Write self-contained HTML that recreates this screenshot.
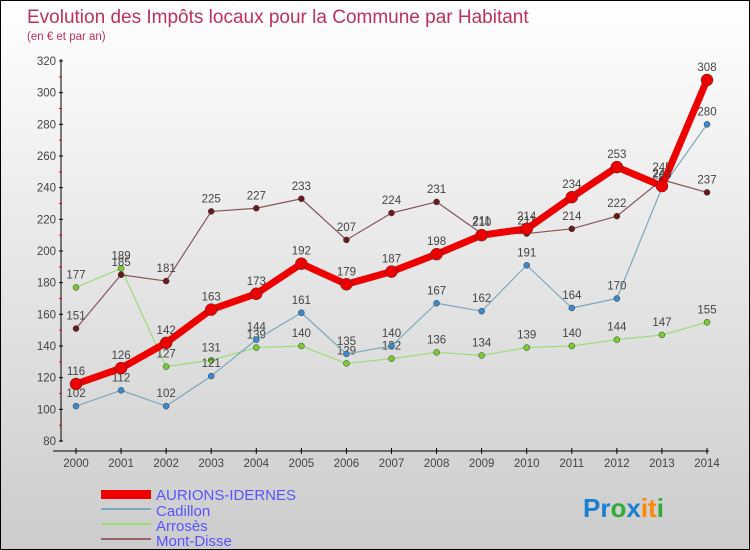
<!DOCTYPE html>
<html><head><meta charset="utf-8"><style>
body{margin:0}
#c{position:relative;width:750px;height:550px;box-sizing:border-box;border:1px solid #000;background:linear-gradient(#fff,#ccc);font-family:"Liberation Sans",sans-serif;overflow:hidden}
svg text{font-family:"Liberation Sans",sans-serif}
</style></head><body>
<div id="c">
<svg id="s" width="750" height="550">
<text x="26" y="22" font-size="19" fill="#c0305a">Evolution des Impôts locaux pour la Commune par Habitant</text>
<text x="26" y="39" font-size="11.5" fill="#c0305a">(en € et par an)</text>
<g id="axes"></g><g id="series"></g>
<g>
<rect x="100" y="489" width="50" height="9" fill="#e00"/>
<text x="155" y="499" font-size="15" fill="#55f">AURIONS-IDERNES</text>
<rect x="100" y="507" width="50" height="2" fill="#7ab"/>
<text x="155" y="515" font-size="15" fill="#55f">Cadillon</text>
<rect x="100" y="522" width="50" height="2" fill="#9d7"/>
<text x="155" y="530" font-size="15" fill="#55f">Arrosès</text>
<rect x="100" y="537" width="50" height="2" fill="#966"/>
<text x="155" y="545" font-size="15" fill="#55f">Mont-Disse</text>
</g>
<text x="582" y="516" font-size="26" font-weight="bold"><tspan fill="#1a7fd0">Pr</tspan><tspan fill="#3a3">o</tspan><tspan fill="#1a7fd0">x</tspan><tspan fill="#f80">it</tspan><tspan fill="#3a3">i</tspan></text>
</svg></div>
<script>
const years=[2000,2001,2002,2003,2004,2005,2006,2007,2008,2009,2010,2011,2012,2013,2014];
const yTicks=[80,100,120,140,160,180,200,220,240,260,280,300,320];
const aurions=[116,126,142,163,173,192,179,187,198,210,214,234,253,241,308];
const cadillon=[102,112,102,121,144,161,135,140,167,162,191,164,170,240,280];
const arroses=[177,189,127,131,139,140,129,132,136,134,139,140,144,147,155];
const montDisse=[151,185,181,225,227,233,207,224,231,211,211,214,222,245,237];
const NS="http://www.w3.org/2000/svg";
const xS=i=>75+i*(706-75)/14;
const yS=v=>440-(v-80)*(380/240);
function mk(t,a,p){const e=document.createElementNS(NS,t);for(const k in a)e.setAttribute(k,a[k]);p.appendChild(e);return e;}
const ax=document.getElementById('axes');
let l=mk('line',{x1:60,y1:58,x2:60,y2:441,stroke:'#000'},ax);


l=mk('line',{x1:52,y1:450,x2:708,y2:450,stroke:'#000'},ax);


yTicks.forEach((v,i)=>{const y=yS(v);
 mk('line',{x1:58,y1:y,x2:62,y2:y,stroke:'#000'},ax);
 if(i<yTicks.length-1)mk('line',{x1:58,y1:y-15.8,x2:61,y2:y-15.8,stroke:'#f00'},ax);
 const t=mk('text',{x:55,y:y+4,'font-size':11.5,fill:'#444','text-anchor':'end'},ax);t.textContent=v;
 
 });
years.forEach((yr,i)=>{const x=xS(i);
 mk('line',{x1:x,y1:447,x2:x,y2:453,stroke:'#000'},ax);
 const t=mk('text',{x:x,y:466,'font-size':11.5,fill:'#444','text-anchor':'middle'},ax);t.textContent=yr;
 
 });
const sg=document.getElementById('series');
function draw(vals,color,w,r,dot,name){
 const g=mk('g',{},sg);
 
 
 const p=mk('polyline',{points:vals.map((v,i)=>xS(i)+','+yS(v)).join(' '),fill:'none',stroke:color,'stroke-width':w,'stroke-linejoin':'round'},g);
 
 
 vals.forEach((v,i)=>{const c=mk('circle',{cx:xS(i),cy:yS(v),r:r,fill:dot,stroke:'#333','stroke-width':0.5},g);
  
  
  const t=mk('text',{x:xS(i),y:yS(v)-9,'font-size':11.5,fill:'#444','text-anchor':'middle'},g);t.textContent=v;
  
  });
}
draw(arroses,'#9d7',1.2,3,'#7c3','arroses');
draw(cadillon,'#7ab',1.2,3,'#3a8ad0','cadillon');
draw(montDisse,'#855',1.2,3,'#6a1a1a','mont-disse');
draw(aurions,'#e00',7,6,'#e00','aurions');
</script>
</body></html>
